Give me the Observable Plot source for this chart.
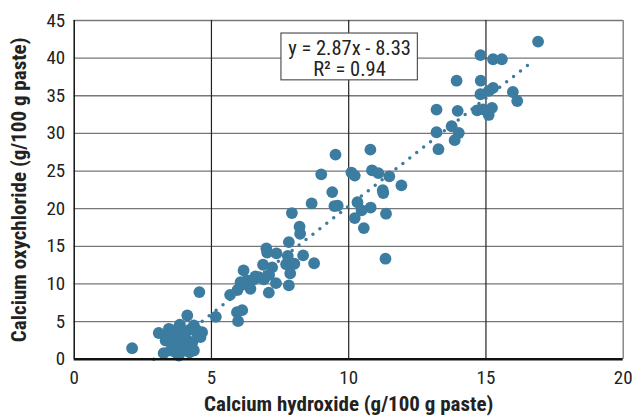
<!DOCTYPE html>
<html><head><meta charset="utf-8">
<script src="https://cdn.jsdelivr.net/npm/d3@7"></script>
<script src="https://cdn.jsdelivr.net/npm/@observablehq/plot@0.6"></script>
<style>body{margin:0;background:#fff;}#chart svg{display:block;}</style>
</head><body><div id="chart"></div>
<script>
// Calcium hydroxide (x) vs calcium oxychloride (y), g/100 g paste
const hydroxide = [
  16.9, 14.8, 15.26, 15.58, 13.93, 14.81, 15.26, 15.1, 14.8, 15.98, 16.14,
  13.2, 13.97, 14.68, 15.22, 15.1, 14.9, 13.2, 13.75, 14.01, 13.86, 13.27,
  10.79, 9.52, 9.0, 10.1, 10.22, 10.85, 11.08, 11.48, 11.92, 11.24, 11.26,
  9.4, 8.65, 9.48, 9.6, 10.32, 10.8, 10.47, 10.22, 11.36, 10.55, 11.34, 8.74,
  7.93, 8.21, 8.23, 7.82, 7.0, 7.03, 7.37, 7.78, 8.34, 6.88, 7.21, 7.72, 8.02,
  7.87, 6.17, 6.3, 6.54, 6.91, 7.35, 7.82, 6.18, 6.42, 7.09, 5.95, 5.68, 6.12,
  5.93, 5.97, 5.16, 4.56, 6.73, 6.06, 7.1, 6.6,
  2.11, 3.08, 3.45, 3.81, 4.36, 4.12, 4.66, 4.6, 3.33, 3.75, 4.12, 3.99, 3.57,
  3.69, 3.51, 3.99, 4.36, 3.81, 3.26, 3.87, 4.2,
  3.9, 4.0, 3.6, 4.3, 3.4, 4.5, 3.7, 4.2, 3.85, 4.45
];
const oxychloride = [
  42.2, 40.4, 39.85, 39.85, 37.0, 37.0, 36.05, 35.65, 35.2, 35.5, 34.3,
  33.15, 33.0, 33.07, 33.4, 32.45, 33.2, 30.15, 30.95, 30.05, 29.1, 27.9,
  27.84, 27.18, 24.56, 24.8, 24.4, 25.1, 24.72, 24.3, 23.1, 22.45, 22.08,
  22.2, 20.7, 20.35, 20.4, 20.85, 20.15, 19.77, 18.75, 19.33, 17.42, 13.35, 12.75,
  19.42, 17.6, 16.67, 15.56, 14.72, 14.17, 14.05, 13.72, 13.79, 12.55, 12.2, 12.62, 12.68,
  11.4, 11.8, 10.47, 10.6, 10.6, 10.1, 9.8, 10.03, 9.36, 8.85, 9.2, 8.55, 6.52,
  6.25, 5.05, 5.63, 8.92, 10.9, 10.24, 11.2, 11.0,
  1.46, 3.48, 4.04, 4.26, 4.48, 5.81, 3.59, 2.93, 2.49, 2.71, 2.49, 3.37, 3.37,
  1.38, 1.16, 1.16, 1.16, 0.49, 0.8, 2.0, 3.9,
  1.8, 2.7, 2.0, 2.2, 3.0, 3.2, 0.9, 0.9, 4.6, 3.9
];
// Linear trend (y = 2.87x - 8.33), endpoints as drawn
const trendX = [2.9, 16.75];
const trendY = [0, 39.7];
const xTicks = [0, 5, 10, 15, 20];
const yTicks = [0, 5, 10, 15, 20, 25, 30, 35, 40, 45];
const eqLines = ["y = 2.87x - 8.33", "R\u00B2 = 0.94"];
const xTitle = "Calcium hydroxide (g/100 g paste)";
const yTitle = "Calcium oxychloride (g/100 g paste)";

const points = hydroxide.map((x, i) => ({x, y: oxychloride[i]}));
const trend = trendX.map((x, i) => ({x, y: trendY[i]}));
const color = "#3b7ca0";
const font = "'Liberation Sans Narrow', 'Arial Narrow', 'Roboto Condensed', 'DejaVu Sans Condensed', sans-serif";

// annotation box layout (data units)
const box = {x1: 7.55, x2: 12.52, y1: 37.05, y2: 43.27, tx: 10.03, ty: [41.33, 38.44]};

const chart = Plot.plot({
  width: 633, height: 418,
  marginLeft: 73.7, marginRight: 10.3, marginTop: 20, marginBottom: 59.3,
  x: {domain: [0, 20]},
  y: {domain: [0, 45]},
  style: {fontFamily: font, fontSize: "19px", color: "#222", background: "#fff"},
  marks: [
    Plot.ruleY(yTicks.slice(1), {stroke: "#777", strokeWidth: 1.3}),
    Plot.ruleX([5, 10, 15], {stroke: "#222", strokeWidth: 1.2}),
    Plot.ruleX([20], {stroke: "#777", strokeWidth: 1.3}),
    Plot.rect([box], {x1: "x1", x2: "x2", y1: "y1", y2: "y2", fill: "#fff", stroke: "#555", strokeWidth: 1.2}),
    Plot.text(eqLines, {x: () => box.tx, y: (d, i) => box.ty[i], text: d => d, fontSize: 20.5, fill: "#222", lineAnchor: "middle"}),
    Plot.dot(points, {x: "x", y: "y", r: 5.9, fill: color, stroke: "none"}),
    Plot.line(trend, {x: "x", y: "y", stroke: color, strokeWidth: 3.5, strokeDasharray: "0 8.8", strokeLinecap: "round"}),
    Plot.ruleX([0], {stroke: "#111", strokeWidth: 1.5}),
    Plot.ruleY([0], {stroke: "#111", strokeWidth: 2.6}),
    Plot.axisX({ticks: xTicks, tickSize: 0, tickPadding: 11, label: null, fontSize: 19}),
    Plot.axisY({ticks: yTicks, tickSize: 0, tickPadding: 9, label: null, fontSize: 19}),
    Plot.text([xTitle], {frameAnchor: "bottom", dy: 45.3, text: d => d, fontSize: 21, fontWeight: "bold", fill: "#222", lineAnchor: "middle", textAnchor: "middle"}),
    Plot.text([yTitle], {frameAnchor: "left", dx: -55.2, rotate: -90, text: d => d, fontSize: 21, fontWeight: "bold", fill: "#222", lineAnchor: "middle", textAnchor: "middle"})
  ]
});
document.getElementById("chart").append(chart);
</script>
</body></html>
